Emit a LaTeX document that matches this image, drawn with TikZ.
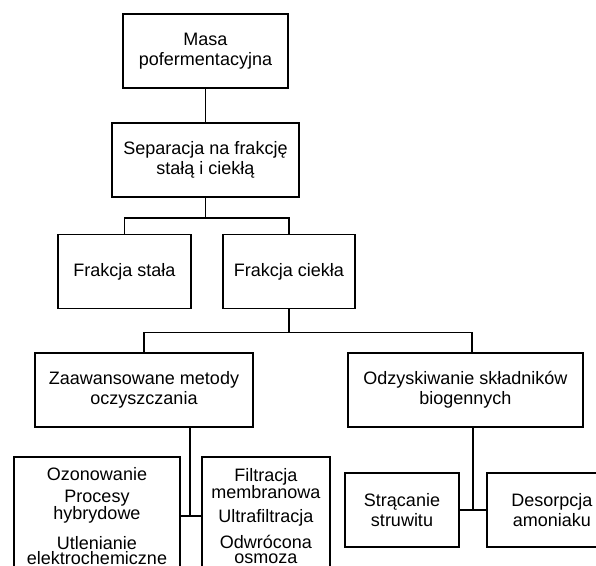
\documentclass[tikz,border=0pt]{standalone}
\usepackage{fontspec}
\setmainfont{Liberation Sans}
\usetikzlibrary{positioning}

\begin{document}
\begin{tikzpicture}[
    x=1pt, y=-1pt,
    box/.style={draw, line width=1.8pt, minimum height=74pt, inner sep=0pt, align=center, font=\fontsize{18}{20}\selectfont},
    listbox/.style={box, minimum height=118pt, font=\fontsize{18}{15}\selectfont},
    link/.style={line width=1.8pt}
]
    \useasboundingbox (0,0) rectangle (596,565);
    \clip (0,0) rectangle (596,565);

    \node[box, minimum width=165pt] (masa) at (205.5,51) {Masa\\pofermentacyjna};
    \node[box, minimum width=187pt, below=33pt of masa] (separacja) {Separacja na frakcję\\stałą i ciekłą};
    \node[box, minimum width=133pt] (stala) at (124.5,271.5) {Frakcja stała};
    \node[box, minimum width=132pt, right=30pt of stala] (ciekla) {Frakcja ciekła};
    \node[box, minimum width=218pt] (metody) at (144,390) {Zaawansowane metody\\oczyszczania};
    \node[box, minimum width=235pt, right=93pt of metody] (odzysk) {Odzyskiwanie składników\\biogennych};
    \node[listbox, minimum width=166pt] (utlenianie) at (97,516) {Ozonowanie\\[7pt]Procesy\\hybrydowe\\[12pt]Utlenianie\\elektrochemiczne};
    \node[listbox, minimum width=128pt, right=20pt of utlenianie] (membrany) {Filtracja\\membranowa\\[9pt]Ultrafiltracja\\[8pt]Odwrócona\\osmoza};
    \node[box, minimum width=114pt] (struwit) at (402,510) {Strącanie\\struwitu};
    \node[box, minimum width=130pt, right=26pt of struwit] (amoniak) {Desorpcja\\amoniaku};

    \draw[link] (masa) -- (separacja);
    \draw[link] (separacja.south) -- ++(0,20) -| (stala.north);
    \draw[link] (separacja.south) -- ++(0,20) -| (ciekla.north);
    \draw[link] (ciekla.south) -- ++(0,23) -| (metody.north);
    \draw[link] (ciekla.south) -- ++(0,23) -| ([xshift=7pt]odzysk.north);
    \draw[link] ([xshift=46pt]metody.south) |- (utlenianie.east);
    \draw[link] (utlenianie.east) -- (membrany.west);
    \draw[link] ([xshift=7.5pt]odzysk.south) |- (struwit.east);
    \draw[link] (struwit.east) -- (amoniak.west);
\end{tikzpicture}
\end{document}
